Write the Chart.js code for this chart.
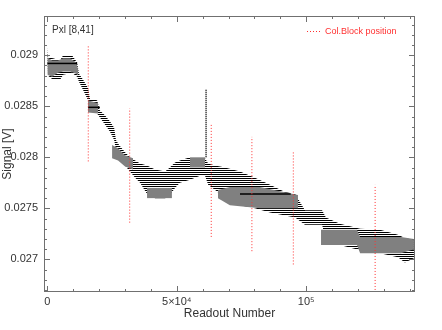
<!DOCTYPE html>
<html>
<head>
<meta charset="utf-8">
<script src="https://cdn.jsdelivr.net/npm/chart.js@4.4.0/dist/chart.umd.min.js"></script>
<style>
  html, body { margin: 0; padding: 0; background: #fff; }
</style>
</head>
<body>
<canvas id="chart" width="442" height="330"></canvas>
<script>
// ---- data ----
// outer envelope of the readout scatter (striped part)
const envX  = [0, 300, 2200, 4900, 6100, 9500, 11500, 12200, 13800, 15700, 16500, 19200, 20300, 22300, 24200, 25800,
               26500, 27700, 30000, 31900, 33900, 35800, 38500, 41600, 45500, 47300, 49300, 51200, 55100, 59000, 60900,
               62100, 64800, 68600, 74400, 80200, 86000, 91800, 95700, 99500, 106100, 107600, 113000, 120800, 128500,
               135400, 138100, 141600];
const envHi = [0.02908, 0.02898, 0.02897, 0.02895, 0.02900, 0.02900, 0.02893, 0.02882, 0.02876, 0.02868, 0.02857, 0.02856,
               0.02846, 0.02841, 0.02835, 0.02829, 0.02817, 0.02812, 0.02805, 0.02800, 0.02797, 0.02794, 0.02792, 0.02788,
               0.02786, 0.02790, 0.02795, 0.02797, 0.02800, 0.02800, 0.02799, 0.02794, 0.02792, 0.02790, 0.02786, 0.02780,
               0.02773, 0.02766, 0.02764, 0.02748, 0.02748, 0.02741, 0.02735, 0.02730, 0.02729, 0.02724, 0.02721, 0.02719];
const envLo = [0.02893, 0.02880, 0.02876, 0.02876, 0.02881, 0.02883, 0.02879, 0.02874, 0.02866, 0.02856, 0.02848, 0.02843,
               0.02839, 0.02832, 0.02825, 0.02817, 0.02807, 0.02797, 0.02792, 0.02786, 0.02780, 0.02775, 0.02764, 0.02760,
               0.02760, 0.02763, 0.02770, 0.02775, 0.02778, 0.02782, 0.02782, 0.02773, 0.02768, 0.02760, 0.02753, 0.02750,
               0.02746, 0.02743, 0.02741, 0.02734, 0.02734, 0.02719, 0.02714, 0.02709, 0.02706, 0.02702, 0.02697, 0.02701];

// dense (grey) parts of the scatter, null separates blocks
const greyX  = [0, 1800, 4100, 6100, 8800, 11100, 11900, null, 15700, 19600, null, 25000, 27300, 30000, 33100, null,
                38500, 48100, null, 55100, 60900, null, 65900, 70500, 82100, 96800, null,
                105700, 119600, 120800, 136600, 141600];
const greyHi = [0.02898, 0.02895, 0.02895, 0.02897, 0.02897, 0.02893, 0.02886, null, 0.02856, 0.02853, null,
                0.02812, 0.02809, 0.02802, 0.02799, null, 0.02770, 0.02770, null, 0.02800, 0.02800, null,
                0.02768, 0.02771, 0.02771, 0.02763, null, 0.02729, 0.02729, 0.02722, 0.02722, 0.02720];
const greyLo = [0.02881, 0.02879, 0.02883, 0.02884, 0.02884, 0.02882, 0.02880, null, 0.02844, 0.02843, null,
                0.02799, 0.02797, 0.02791, 0.02788, null, 0.02760, 0.02760, null, 0.02790, 0.02790, null,
                0.02760, 0.02753, 0.02750, 0.02750, null, 0.02714, 0.02714, 0.02706, 0.02706, 0.02710];

// solid black signal levels
const levelFrom = [0, 15700, 74400];
const levelTo   = [11500, 20300, 94000];
const levelY    = [0.02892, 0.02849, 0.02764];

// isolated spike
const spikeX = 61300;
const spikeTop = 0.02867;
const spikeBottom = 0.02800;

// column block positions (red dotted)
const blockX      = [15800, 31800, 63300, 79000, 95000, 126600];
const blockTop    = [0.02910, 0.02848, 0.02833, 0.02820, 0.02806, 0.02773];
const blockBottom = [0.02796, 0.02736, 0.02722, 0.02708, 0.02695, 0.02670];

// axes
const xTickValues = [0, 50000, 100000];
const xTickLabels = ['0', '5\u00d710\u2074', '10\u2075'];
const yTickValues = [0.027, 0.0275, 0.028, 0.0285, 0.029];
const yTickLabels = ['0.027', '0.0275', '0.028', '0.0285', '0.029'];
const xMin = -1300, xMax = 142000;
const yMin = 0.02668, yMax = 0.029385;

const FONT = '"Liberation Sans", "DejaVu Sans", sans-serif';
const RED = '#ff3030';

// stripe pattern for the quantised readout levels
const pc = document.createElement('canvas');
pc.width = 2; pc.height = 2;
const pctx = pc.getContext('2d');
pctx.fillStyle = '#000';
pctx.fillRect(0, 0, 2, 1);
const stripes = pctx.createPattern(pc, 'repeat');

const datasets = [];
const base = { borderColor: 'transparent', borderWidth: 0, pointRadius: 0, tension: 0 };

function addBand(xs, hi, lo, color, order) {
  let start = 0;
  for (let i = 0; i <= xs.length; i++) {
    if (i === xs.length || xs[i] === null) {
      if (i > start) {
        const idx = [];
        for (let k = start; k < i; k++) idx.push(k);
        datasets.push({ ...base, data: idx.map(k => ({ x: xs[k], y: hi[k] })), fill: '+1', backgroundColor: color, order });
        datasets.push({ ...base, data: idx.map(k => ({ x: xs[k], y: lo[k] })), fill: false, order });
      }
      start = i + 1;
    }
  }
}

addBand(envX, envHi, envLo, stripes, 6);
addBand(greyX, greyHi, greyLo, '#808080', 5);

levelY.forEach((v, i) => {
  datasets.push({ data: [{ x: levelFrom[i], y: v }, { x: levelTo[i], y: v }],
    borderColor: '#000', borderWidth: 1.5, pointRadius: 0, fill: false, order: 4 });
});

datasets.push({ data: [{ x: spikeX, y: spikeBottom }, { x: spikeX, y: spikeTop }],
  borderColor: '#000', borderWidth: 1.5, borderDash: [1, 1], pointRadius: 0, fill: false, order: 3 });

blockX.forEach((bx, i) => {
  datasets.push({ data: [{ x: bx, y: blockBottom[i] }, { x: bx, y: blockTop[i] }],
    borderColor: RED, borderWidth: 1, borderDash: [1, 2], pointRadius: 0, fill: false, order: 1 });
});

// frame with inward ticks, legend and pixel label
const framePlugin = {
  id: 'frame',
  afterDraw(chart) {
    const { ctx, chartArea: a, scales: { x, y } } = chart;
    ctx.save();
    ctx.strokeStyle = '#707070';
    ctx.lineWidth = 1;
    ctx.strokeRect(a.left + 0.5, a.top + 0.5, a.right - a.left - 1, a.bottom - a.top - 1);
    ctx.beginPath();
    for (let k = 0; k <= 14; k++) {
      const px = Math.round(x.getPixelForValue(k * 10000)) + 0.5;
      const len = k % 5 === 0 ? 6 : 3;
      ctx.moveTo(px, a.bottom); ctx.lineTo(px, a.bottom - len);
      ctx.moveTo(px, a.top); ctx.lineTo(px, a.top + len);
    }
    for (let k = 267; k <= 293; k++) {
      const py = Math.round(y.getPixelForValue(k / 10000)) + 0.5;
      const len = k % 5 === 0 ? 6 : 3;
      ctx.moveTo(a.left, py); ctx.lineTo(a.left + len, py);
      ctx.moveTo(a.right, py); ctx.lineTo(a.right - len, py);
    }
    ctx.stroke();

    ctx.font = '10px ' + FONT;
    ctx.fillStyle = '#333';
    ctx.textBaseline = 'middle';
    ctx.fillText('Pxl [8,41]', a.left + 8, a.top + 14);

    ctx.strokeStyle = RED;
    ctx.setLineDash([1, 2]);
    ctx.beginPath();
    ctx.moveTo(a.right - 108, a.top + 15.5);
    ctx.lineTo(a.right - 94, a.top + 15.5);
    ctx.stroke();
    ctx.setLineDash([]);
    ctx.font = '9px ' + FONT;
    ctx.fillStyle = RED;
    ctx.fillText('Col.Block position', a.right - 90, a.top + 16);
    ctx.restore();
  }
};

new Chart(document.getElementById('chart'), {
  type: 'line',
  data: { datasets },
  options: {
    responsive: false,
    animation: false,
    layout: { padding: { top: 16, right: 27, left: 0, bottom: 0 } },
    plugins: { legend: { display: false }, tooltip: { enabled: false } },
    scales: {
      x: {
        type: 'linear', min: xMin, max: xMax,
        afterFit: s => { s.height = 38; },
        afterBuildTicks: s => { s.ticks = xTickValues.map(v => ({ value: v })); },
        grid: { display: false, drawTicks: false },
        border: { display: false },
        ticks: {
          autoSkip: false, maxRotation: 0, padding: 3, color: '#333',
          font: { family: FONT, size: 11 },
          callback: v => xTickLabels[xTickValues.indexOf(v)]
        },
        title: { display: true, text: 'Readout Number', color: '#333',
          font: { family: FONT, size: 12 }, padding: { top: 0, bottom: 9 } }
      },
      y: {
        min: yMin, max: yMax,
        afterFit: s => { s.width = 44; },
        afterBuildTicks: s => { s.ticks = yTickValues.map(v => ({ value: v })); },
        grid: { display: false, drawTicks: false },
        border: { display: false },
        ticks: {
          autoSkip: false, padding: 6, color: '#333',
          font: { family: FONT, size: 11 },
          callback: v => yTickLabels[yTickValues.indexOf(v)]
        },
        title: { display: true, text: 'Signal [V]', color: '#333',
          font: { family: FONT, size: 12 }, padding: { top: 0, bottom: 0 } }
      }
    }
  },
  plugins: [framePlugin]
});
</script>
</body>
</html>
